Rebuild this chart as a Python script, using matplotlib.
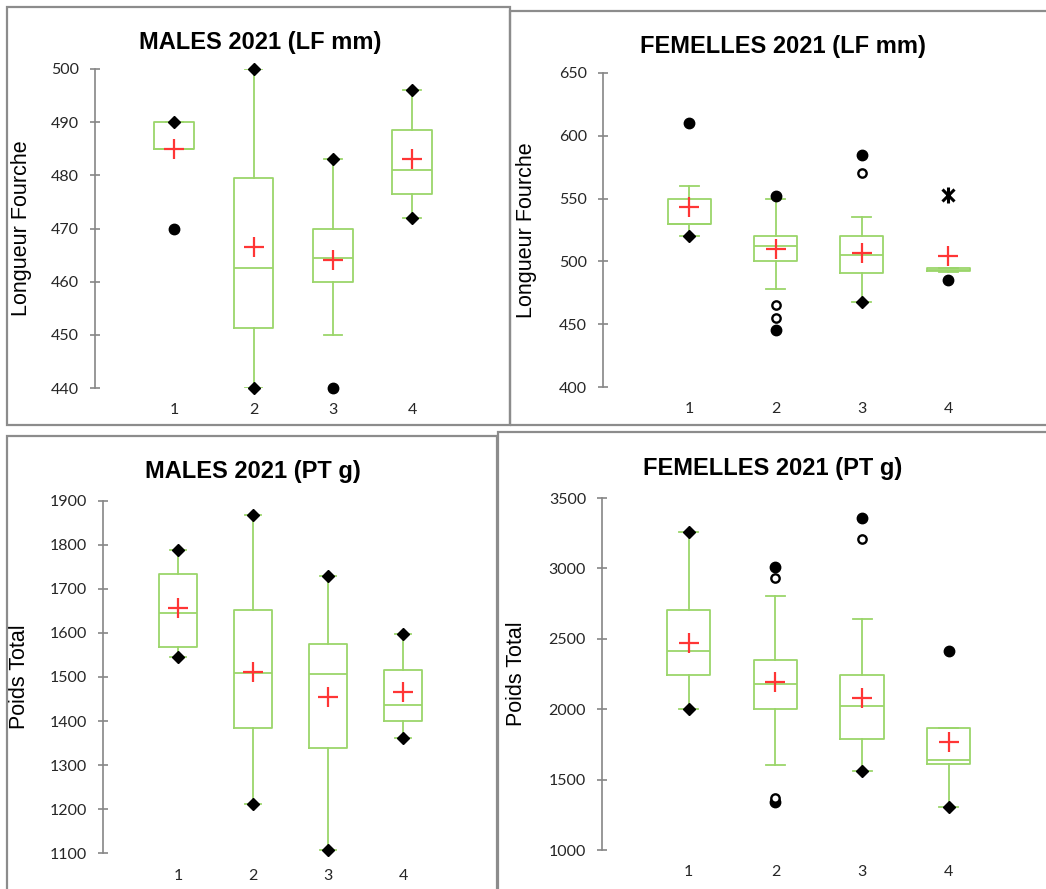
import matplotlib
matplotlib.use("Agg")
import matplotlib.pyplot as plt
from matplotlib.patches import Rectangle

W, H = 1046, 889

groups = [1, 2, 3, 4]

# MALES 2021 (LF mm)
males_lf_low = [485, 440, 450, 472]
males_lf_q1 = [485, 451.2, 460, 476.5]
males_lf_med = [485, 462.6, 464.4, 481]
males_lf_q3 = [490, 479.5, 470, 488.6]
males_lf_high = [490, 500, 483, 496]
males_lf_mean = [485, 466.5, 464.0, 483]
males_lf_min = [None, 440, None, 472]
males_lf_max = [490, 500, 483, 496]
males_lf_far = [(1, 470), (3, 440)]
males_lf_near = []

# FEMELLES 2021 (LF mm)
fem_lf_low = [520, 478.4, 468, 491.5]
fem_lf_q1 = [530, 500, 490.9, 492.2]
fem_lf_med = [530, 512.4, 505, 493.5]
fem_lf_q3 = [550, 520, 520, 495]
fem_lf_high = [560, 550, 535.4, 495]
fem_lf_mean = [543.7, 510, 506.8, 504]
fem_lf_min = [520, None, 468, None]
fem_lf_max = [None, None, None, None]
fem_lf_far = [(1, 610), (2, 552), (2, 445), (3, 585), (4, 485)]
fem_lf_near = [(2, 465), (2, 455), (3, 570)]
fem_lf_star = [(4, 553)]

# MALES 2021 (PT g)
males_pt_low = [1545, 1211, 1107, 1361]
males_pt_q1 = [1567, 1384, 1338, 1400]
males_pt_med = [1646, 1510, 1507, 1437]
males_pt_q3 = [1734, 1652, 1574, 1517]
males_pt_high = [1788, 1868, 1729, 1597]
males_pt_mean = [1656, 1511, 1454, 1465]
males_pt_min = [1545, 1211, 1107, 1361]
males_pt_max = [1788, 1868, 1729, 1597]
males_pt_far = []
males_pt_near = []

# FEMELLES 2021 (PT g)
fem_pt_low = [2003, 1604, 1561, 1307]
fem_pt_q1 = [2243, 2003, 1790, 1611]
fem_pt_med = [2416, 2181, 2023, 1639]
fem_pt_q3 = [2707, 2347, 2245, 1869]
fem_pt_high = [3258, 2802, 2641, 1869]
fem_pt_mean = [2468, 2191, 2077, 1767]
fem_pt_min = [2003, None, 1561, 1307]
fem_pt_max = [3258, None, None, None]
fem_pt_far = [(2, 3010), (2, 1343), (3, 3360), (4, 2413)]
fem_pt_near = [(2, 2934), (2, 1367), (3, 3209)]

GREEN = "#9BD56A"
RED = "#FF3535"
GREY = "#868686"
TICKFONT = ["Lato", "DejaVu Sans"]

plt.rcParams["font.family"] = ["Liberation Sans", "DejaVu Sans"]

fig = plt.figure(figsize=(W / 100, H / 100), dpi=100)


def px_axes(x0, y0, x1, y1):
    return fig.add_axes([x0 / W, 1 - y1 / H, (x1 - x0) / W, (y1 - y0) / H])


def frame(x0, y0, x1, y1):
    fig.add_artist(Rectangle((x0 / W, 1 - y1 / H), (x1 - x0) / W, (y1 - y0) / H,
                             transform=fig.transFigure, fill=False,
                             ec="#8C8C8C", lw=1.6))


def panel(box, title, ylabel, ylim, yticks, low, q1, med, q3, high, mean,
          mins, maxs, far, near, title_xy, label_x, star=None):
    ax = px_axes(*box)
    stats = []
    for i in range(4):
        stats.append(dict(whislo=low[i], q1=q1[i], med=med[i], q3=q3[i],
                          whishi=high[i], fliers=[]))
    ax.bxp(stats, positions=groups, widths=0.5, capwidths=0.22,
           showfliers=False, showmeans=False,
           boxprops=dict(color=GREEN, lw=1.3),
           medianprops=dict(color=GREEN, lw=1.3),
           whiskerprops=dict(color=GREEN, lw=1.3),
           capprops=dict(color=GREEN, lw=1.3))
    ax.plot(groups, mean, ls="none", marker="+", ms=15, mew=1.6, color=RED, zorder=5)
    for vals in (mins, maxs):
        xs = [g for g, v in zip(groups, vals) if v is not None]
        ys = [v for v in vals if v is not None]
        ax.plot(xs, ys, ls="none", marker="D", ms=5.8, color="black", zorder=6,
                clip_on=False)
    if far:
        ax.plot([p[0] for p in far], [p[1] for p in far], ls="none", marker="o",
                ms=7.5, color="black", zorder=6, clip_on=False)
    if near:
        ax.plot([p[0] for p in near], [p[1] for p in near], ls="none", marker="o",
                ms=6, mfc="white", mec="black", mew=1.7, zorder=6)
    if star:
        sx = [p[0] for p in star]
        sy = [p[1] for p in star]
        ax.plot(sx, sy, ls="none", marker="x", ms=9, mew=2.2, color="black", zorder=6)
        ax.plot(sx, sy, ls="none", marker="|", ms=11, mew=2.2, color="black", zorder=6)
    ax.set_xlim(0, 5)
    ax.set_ylim(*ylim)
    ax.set_yticks(yticks)
    ax.set_xticks(groups)
    ax.set_xticklabels([str(g) for g in groups])
    for s in ("top", "right", "bottom"):
        ax.spines[s].set_visible(False)
    ax.spines["left"].set_color(GREY)
    ax.spines["left"].set_linewidth(1.2)
    ax.spines["left"].set_bounds(*ylim)
    ax.tick_params(axis="y", direction="inout", length=7, width=1.2, color=GREY,
                   labelsize=11.5, labelcolor="#262626", pad=8)
    ax.tick_params(axis="x", length=0, labelsize=11.5, labelcolor="#262626", pad=11)
    for lab in ax.get_xticklabels() + ax.get_yticklabels():
        lab.set_family(TICKFONT)
    ax.set_ylabel(ylabel, fontsize=15.5)
    ax.yaxis.set_label_coords(label_x, 0.5)
    ax.patch.set_visible(False)
    fig.text(title_xy[0] / W, 1 - title_xy[1] / H, title, ha="center", va="center",
             fontsize=17, fontweight="bold")
    return ax


frame(7, 7, 510, 425)
frame(510, 11, 1060, 425)
frame(7, 436, 497, 900)
frame(498, 432, 1060, 900)

panel((95, 69, 491.5, 388), "MALES 2021 (LF mm)", "Longueur Fourche",
      (440, 500), range(440, 501, 10),
      males_lf_low, males_lf_q1, males_lf_med, males_lf_q3, males_lf_high,
      males_lf_mean, males_lf_min, males_lf_max, males_lf_far, males_lf_near,
      (260, 42), -0.159)

panel((603, 73, 1034.5, 387), "FEMELLES 2021 (LF mm)", "Longueur Fourche",
      (400, 650), range(400, 651, 50),
      fem_lf_low, fem_lf_q1, fem_lf_med, fem_lf_q3, fem_lf_high,
      fem_lf_mean, fem_lf_min, fem_lf_max, fem_lf_far, fem_lf_near,
      (783, 46), -0.153, star=fem_lf_star)

panel((103, 500.7, 478, 853.3), "MALES 2021 (PT g)", "Poids Total",
      (1100, 1900), range(1100, 1901, 100),
      males_pt_low, males_pt_q1, males_pt_med, males_pt_q3, males_pt_high,
      males_pt_mean, males_pt_min, males_pt_max, males_pt_far, males_pt_near,
      (253, 472), -0.195)

panel((602, 498, 1035.5, 850), "FEMELLES 2021 (PT g)", "Poids Total",
      (1000, 3500), range(1000, 3501, 500),
      fem_pt_low, fem_pt_q1, fem_pt_med, fem_pt_q3, fem_pt_high,
      fem_pt_mean, fem_pt_min, fem_pt_max, fem_pt_far, fem_pt_near,
      (773, 468), -0.173)

fig.savefig("out.png", dpi=100)
